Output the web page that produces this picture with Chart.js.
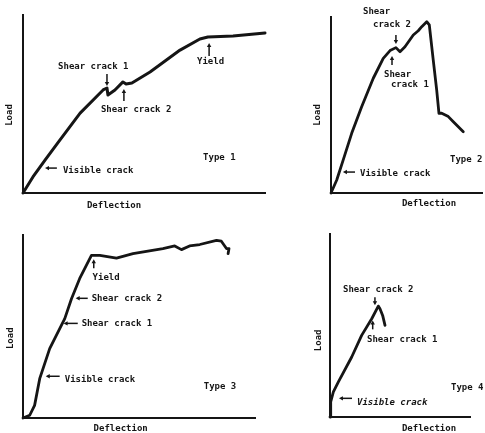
<!DOCTYPE html>
<html>
<head>
<meta charset="utf-8">
<script src="https://cdn.jsdelivr.net/npm/chart.js@4.4.1/dist/chart.umd.min.js"></script>
<style>
  body { margin: 0; background: #fff; }
  #wrap { position: relative; width: 485px; height: 433px; overflow: hidden; }
  canvas { position: absolute; }
</style>
</head>
<body>
<div id="wrap">
  <canvas id="type1" width="280" height="215" style="left:0;top:0"></canvas>
  <canvas id="type2" width="195" height="215" style="left:290px;top:0"></canvas>
  <canvas id="type3" width="280" height="218" style="left:0;top:215px"></canvas>
  <canvas id="type4" width="195" height="218" style="left:290px;top:215px"></canvas>
</div>
<script>
// load-deflection curves, both axes in relative units 0..100
const type1Deflection = [0, 4.1, 9.1, 15.3, 23.6, 33.1, 34.7, 35.1, 38.0, 41.3, 42.6, 45.0, 52.5, 64.9, 73.1, 76.4, 86.8, 100];
const type1Load       = [0, 9.0, 18.5, 29.8, 44.9, 57.9, 59.0, 55.1, 57.9, 62.4, 61.2, 61.8, 68.0, 80.3, 86.5, 87.6, 88.2, 89.9];

const type2Deflection = [0, 3.8, 8.1, 13.7, 20.3, 28.0, 34.6, 39.1, 43.0, 45.7, 49.0, 54.5, 57.8, 60.1, 63.4, 65.1, 67.7, 70.0, 71.5, 73.3, 77.7, 81.0, 87.6];
const type2Load       = [0, 7.4, 18.8, 33.9, 49.0, 65.2, 76.5, 80.9, 82.6, 80.3, 83.1, 89.8, 92.2, 94.5, 97.3, 95.5, 75.6, 58.5, 45.3, 45.3, 43.4, 40.5, 34.8];

const type3Deflection = [0, 2.9, 5.0, 7.2, 11.5, 18.0, 20.9, 24.4, 29.5, 33.1, 40.3, 47.4, 60.3, 65.4, 68.3, 71.8, 76.2, 83.4, 85.5, 87.7, 88.8, 88.4];
const type3Load       = [0, 1.5, 6.9, 21.5, 37.9, 54.3, 65.2, 76.1, 88.9, 88.9, 87.4, 89.8, 92.6, 94.0, 92.0, 94.0, 94.8, 97.1, 96.6, 92.6, 92.6, 89.8];

const type4Deflection = [0, 0.5, 2.4, 5.9, 15.5, 22.6, 29.8, 34.5, 35.7, 37.6, 39.3];
const type4Load       = [0, 8.2, 13.7, 19.1, 32.8, 44.6, 53.7, 60.6, 59.2, 55.5, 50.1];

// labels and arrows, placed in data units
const type1Notes = [
  { text: 'Shear crack 1', x: 14.5, y: 70.8 },
  { arrow: [34.7, 66.9, 34.7, 60.1] },
  { text: 'Shear crack 2', x: 32.2, y: 46.6 },
  { arrow: [41.7, 51.7, 41.7, 58.4] },
  { text: 'Yield', x: 71.9, y: 73.6 },
  { arrow: [76.9, 77.0, 76.9, 84.3] },
  { text: 'Visible crack', x: 16.5, y: 12.4 },
  { arrow: [14.0, 14.0, 9.1, 14.0] },
  { text: 'Type 1', x: 74.4, y: 19.7 }
];
const type2Notes = [
  { text: 'Shear', x: 21.2, y: 102.8 },
  { text: 'crack 2', x: 27.8, y: 95.5 },
  { arrow: [43.0, 89.8, 43.0, 84.7] },
  { arrow: [40.4, 72.7, 40.4, 77.8] },
  { text: 'Shear', x: 35.1, y: 67.0 },
  { text: 'crack 1', x: 39.7, y: 61.4 },
  { text: 'Visible crack', x: 19.2, y: 10.8 },
  { arrow: [15.9, 11.9, 7.9, 11.9] },
  { text: 'Type 2', x: 78.8, y: 18.8 }
];
const type3Notes = [
  { text: 'Yield', x: 30.0, y: 76.9 },
  { arrow: [30.5, 81.8, 30.5, 86.7] },
  { text: 'Shear crack 2', x: 29.6, y: 65.4 },
  { arrow: [27.9, 65.4, 22.7, 65.4] },
  { text: 'Shear crack 1', x: 25.3, y: 51.7 },
  { arrow: [23.6, 51.7, 17.5, 51.7] },
  { text: 'Visible crack', x: 18.0, y: 21.1 },
  { arrow: [15.8, 22.8, 9.8, 22.8] },
  { text: 'Type 3', x: 77.9, y: 17.3 }
];
const type4Notes = [
  { text: 'Shear crack 2', x: 9.3, y: 69.8 },
  { arrow: [32.1, 65.4, 32.1, 61.0] },
  { arrow: [30.5, 47.9, 30.5, 52.8] },
  { text: 'Shear crack 1', x: 26.4, y: 42.5 },
  { text: 'Visible crack', x: 19.3, y: 8.0, italic: true },
  { arrow: [15.7, 10.2, 6.4, 10.2] },
  { text: 'Type 4', x: 86.4, y: 16.2 }
];

const INK = '#151515';
const FONT = 'bold 9px "DejaVu Sans Mono", monospace';

// draws the text labels, arrows and axis names through the chart scales
const notesPlugin = {
  id: 'notes',
  afterDatasetsDraw(chart, args, opts) {
    const { ctx, scales: { x, y } } = chart;
    ctx.save();
    ctx.fillStyle = INK;
    ctx.strokeStyle = INK;
    ctx.textBaseline = 'middle';
    opts.notes.forEach(n => {
      if (n.text) {
        ctx.font = n.italic ? 'italic ' + FONT : FONT;
        ctx.textAlign = 'left';
        ctx.fillText(n.text, x.getPixelForValue(n.x), y.getPixelForValue(n.y));
      } else if (n.arrow) {
        const [x0, y0, x1, y1] = n.arrow;
        const ax = x.getPixelForValue(x0), ay = y.getPixelForValue(y0);
        const bx = x.getPixelForValue(x1), by = y.getPixelForValue(y1);
        const ang = Math.atan2(by - ay, bx - ax);
        ctx.lineWidth = 1.5;
        ctx.beginPath();
        ctx.moveTo(ax, ay);
        ctx.lineTo(bx - 2 * Math.cos(ang), by - 2 * Math.sin(ang));
        ctx.stroke();
        ctx.beginPath();
        ctx.moveTo(bx, by);
        ctx.lineTo(bx - 4 * Math.cos(ang) + 2.2 * Math.sin(ang), by - 4 * Math.sin(ang) - 2.2 * Math.cos(ang));
        ctx.lineTo(bx - 4 * Math.cos(ang) - 2.2 * Math.sin(ang), by - 4 * Math.sin(ang) + 2.2 * Math.cos(ang));
        ctx.closePath();
        ctx.fill();
      }
    });
    // axis names
    ctx.font = FONT;
    ctx.textAlign = 'center';
    const dl = opts.deflectionAt, ld = opts.loadAt;
    ctx.fillText('Deflection', x.getPixelForValue(dl[0]), y.getPixelForValue(dl[1]));
    ctx.translate(x.getPixelForValue(ld[0]), y.getPixelForValue(ld[1]));
    ctx.rotate(-Math.PI / 2);
    ctx.fillText('Load', 0, 0);
    ctx.restore();
  }
};

function makePanel(id, xs, ys, notes, padding, deflectionAt, loadAt, lineWidth) {
  const axis = {
    type: 'linear',
    min: 0,
    max: 100,
    ticks: { display: false },
    grid: { display: false, drawTicks: false },
    border: { display: true, width: 2, color: INK }
  };
  return new Chart(document.getElementById(id), {
    type: 'scatter',
    data: {
      datasets: [{
        data: xs.map((v, i) => ({ x: v, y: ys[i] })),
        showLine: true,
        borderColor: INK,
        borderWidth: lineWidth,
        borderJoinStyle: 'round',
        borderCapStyle: 'round',
        pointRadius: 0,
        tension: 0,
        clip: false
      }]
    },
    options: {
      responsive: false,
      animation: false,
      layout: { padding },
      plugins: {
        legend: { display: false },
        tooltip: { enabled: false },
        notes: { notes, deflectionAt, loadAt }
      },
      scales: { x: axis, y: axis }
    },
    plugins: [notesPlugin]
  });
}

makePanel('type1', type1Deflection, type1Load, type1Notes,
  { left: 23, right: 15, top: 15, bottom: 22 }, [37.6, -7.3], [-5.4, 43.8], 3);
makePanel('type2', type2Deflection, type2Load, type2Notes,
  { left: 41, right: 3, top: 17, bottom: 22 }, [64.9, -6.3], [-8.6, 44.3], 2.8);
makePanel('type3', type3Deflection, type3Load, type3Notes,
  { left: 23, right: 25, top: 20, bottom: 15 }, [42.1, -5.6], [-5.3, 43.6], 2.8);
makePanel('type4', type4Deflection, type4Load, type4Notes,
  { left: 40, right: 15, top: 19, bottom: 16 }, [70.7, -6.2], [-7.9, 41.9], 2.8);
</script>
</body>
</html>
